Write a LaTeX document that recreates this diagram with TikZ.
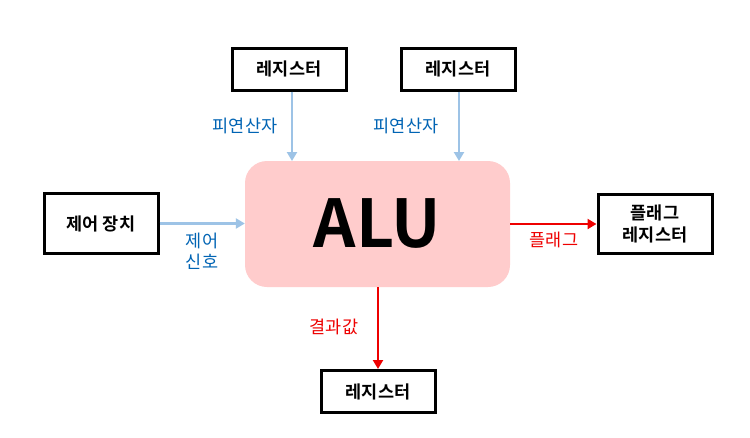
\documentclass[tikz,border=0pt]{standalone}
\usepackage{fontspec}
\setmainfont{Noto Sans CJK KR}
\newfontfamily\kr{Noto Sans CJK KR}
\newfontfamily\krb{Noto Sans CJK KR Bold}
\usetikzlibrary{arrows.meta}
\definecolor{aluFill}{HTML}{FFCCCC}
\definecolor{lblue}{HTML}{9DC3E6}
\definecolor{tblue}{HTML}{0064B4}
\definecolor{tred}{HTML}{EE0000}
\tikzset{
  regbox/.style={draw=black, line width=3pt, fill=white, minimum width=114pt, minimum height=42pt, inner sep=0pt, font=\krb\fontsize{17.5}{20}\selectfont, align=center},
  bluearr/.style={draw=lblue, line width=2.2pt, -{Triangle[length=9pt,width=10pt]}},
  redarr/.style={draw=tred, line width=2.4pt, -{Triangle[length=9pt,width=10pt]}},
  bluelbl/.style={text=tblue, font=\kr\fontsize{17.5}{20}\selectfont, inner sep=0pt, align=center},
  redlbl/.style={text=tred, font=\kr\fontsize{17.5}{20}\selectfont, inner sep=0pt, align=center}
}
\begin{document}
\begin{tikzpicture}[x=1pt,y=-1pt]
\useasboundingbox[fill=white] (0,0) rectangle (750,437);
\node[fill=aluFill, rounded corners=22pt, minimum width=265pt, minimum height=126pt, inner sep=0pt, font=\krb\fontsize{66}{70}\selectfont] (alu) at (377.5,224) {ALU};
\node[regbox] (r1) at (289,69) {레지스터};
\node[regbox] (r2) at (458,69) {레지스터};
\node[regbox, minimum height=60pt] (ctl) at (101,223.5) {제어 장치};
\node[regbox, minimum height=59pt] (flag) at (655,224) {플래그\\[2pt]레지스터};
\node[regbox] (r3) at (378,391.5) {레지스터};
\coordinate (a1) at (292,161);
\coordinate (a2) at (459,161);
\draw[bluearr] (r1.south -| a1) -- (a1);
\draw[bluearr] (r2.south -| a2) -- (a2);
\draw[bluearr] (ctl.east) -- (alu.west |- ctl.east);
\draw[redarr] (alu.east |- flag.west) -- (flag.west);
\draw[redarr] (alu.south -| r3.north) -- (r3.north);
\node[bluelbl] (l1) at (245,126) {피연산자};
\node[bluelbl] (l2) at (406,126) {피연산자};
\node[bluelbl] (l3) at (202,251.5) {제어\\[1pt]신호};
\node[redlbl] (l4) at (554,240) {플래그};
\node[redlbl] (l5) at (334,327) {결과값};
\end{tikzpicture}
\end{document}
